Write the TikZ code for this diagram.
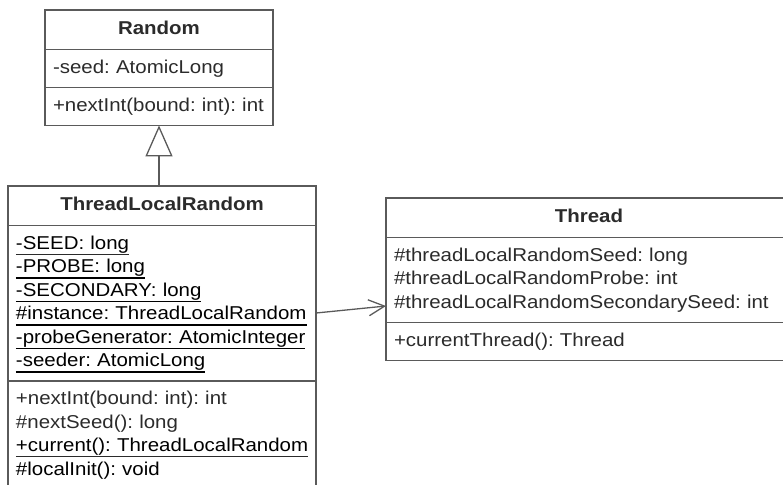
\documentclass[tikz,border=0pt]{standalone}
\usepackage{fontspec}
\setmainfont{Liberation Sans}[FakeStretch=1.1]
\usepackage{tikz}
\usetikzlibrary{shapes.multipart,arrows.meta}
\definecolor{umlline}{HTML}{5A5A5A}
\definecolor{umltext}{HTML}{2B2B2B}
\frenchspacing
\newsavebox{\statbox}
\newcommand{\umlhead}[1]{\rule[-8pt]{0pt}{25.5pt}\hfill\textbf{#1}\hfill\null}
\newcommand{\stat}[1]{\strut\sbox{\statbox}{#1}\rlap{\rule[-5.6pt]{\wd\statbox}{1.1pt}}\usebox{\statbox}}

\tikzset{
  umlclass/.style={rectangle split, rectangle split parts=3, draw=umlline,
    line width=1.3pt, text=umltext, align=left, inner xsep=8pt, inner ysep=6.5pt,
    outer sep=0pt, anchor=north west, font=\fontsize{18.6}{23.5}\selectfont},
  inherit/.style={draw=umlline, line width=1.3pt, -{Triangle[open,length=31pt,width=27pt]}},
  assoc/.style={draw=umlline, line width=1.3pt, -{Straight Barb[length=16pt,width=16pt]}}
}

\begin{document}
\begin{tikzpicture}[x=1pt,y=-1pt]
  \path[use as bounding box,clip] (0,0) rectangle (783,484);

  \node[umlclass,text width=212pt] (random) at (45,10) {
    \umlhead{Random}
    \nodepart{two}\strut-seed: AtomicLong
    \nodepart{three}\strut+nextInt(bound: int): int};

  \node[umlclass,text width=292pt] (tlr) at (8,186) {
    \umlhead{ThreadLocalRandom}
    \nodepart{two}\stat{-SEED: long}\\
    \stat{-PROBE: long}\\
    \stat{-SECONDARY: long}\\
    \stat{\#instance: ThreadLocalRandom}\\
    \stat{-probeGenerator: AtomicInteger}\\
    \stat{-seeder: AtomicLong}
    \nodepart{three}\strut+nextInt(bound: int): int\\
    \strut\#nextSeed(): long\\
    \stat{+current(): ThreadLocalRandom}\\
    \strut\#localInit(): void};

  \node[umlclass,text width=390pt] (thread) at (386,198) {
    \umlhead{Thread}
    \nodepart{two}\strut\#threadLocalRandomSeed: long\\
    \strut\#threadLocalRandomProbe: int\\
    \strut\#threadLocalRandomSecondarySeed: int
    \nodepart{three}\strut+currentThread(): Thread};

  % generalisation and association
  \draw[inherit] (tlr.north -| random.south) -- (random.south);
  \draw[assoc] ([yshift=-127pt]tlr.north east) -- ([yshift=-108pt]thread.north west);
\end{tikzpicture}
\end{document}
